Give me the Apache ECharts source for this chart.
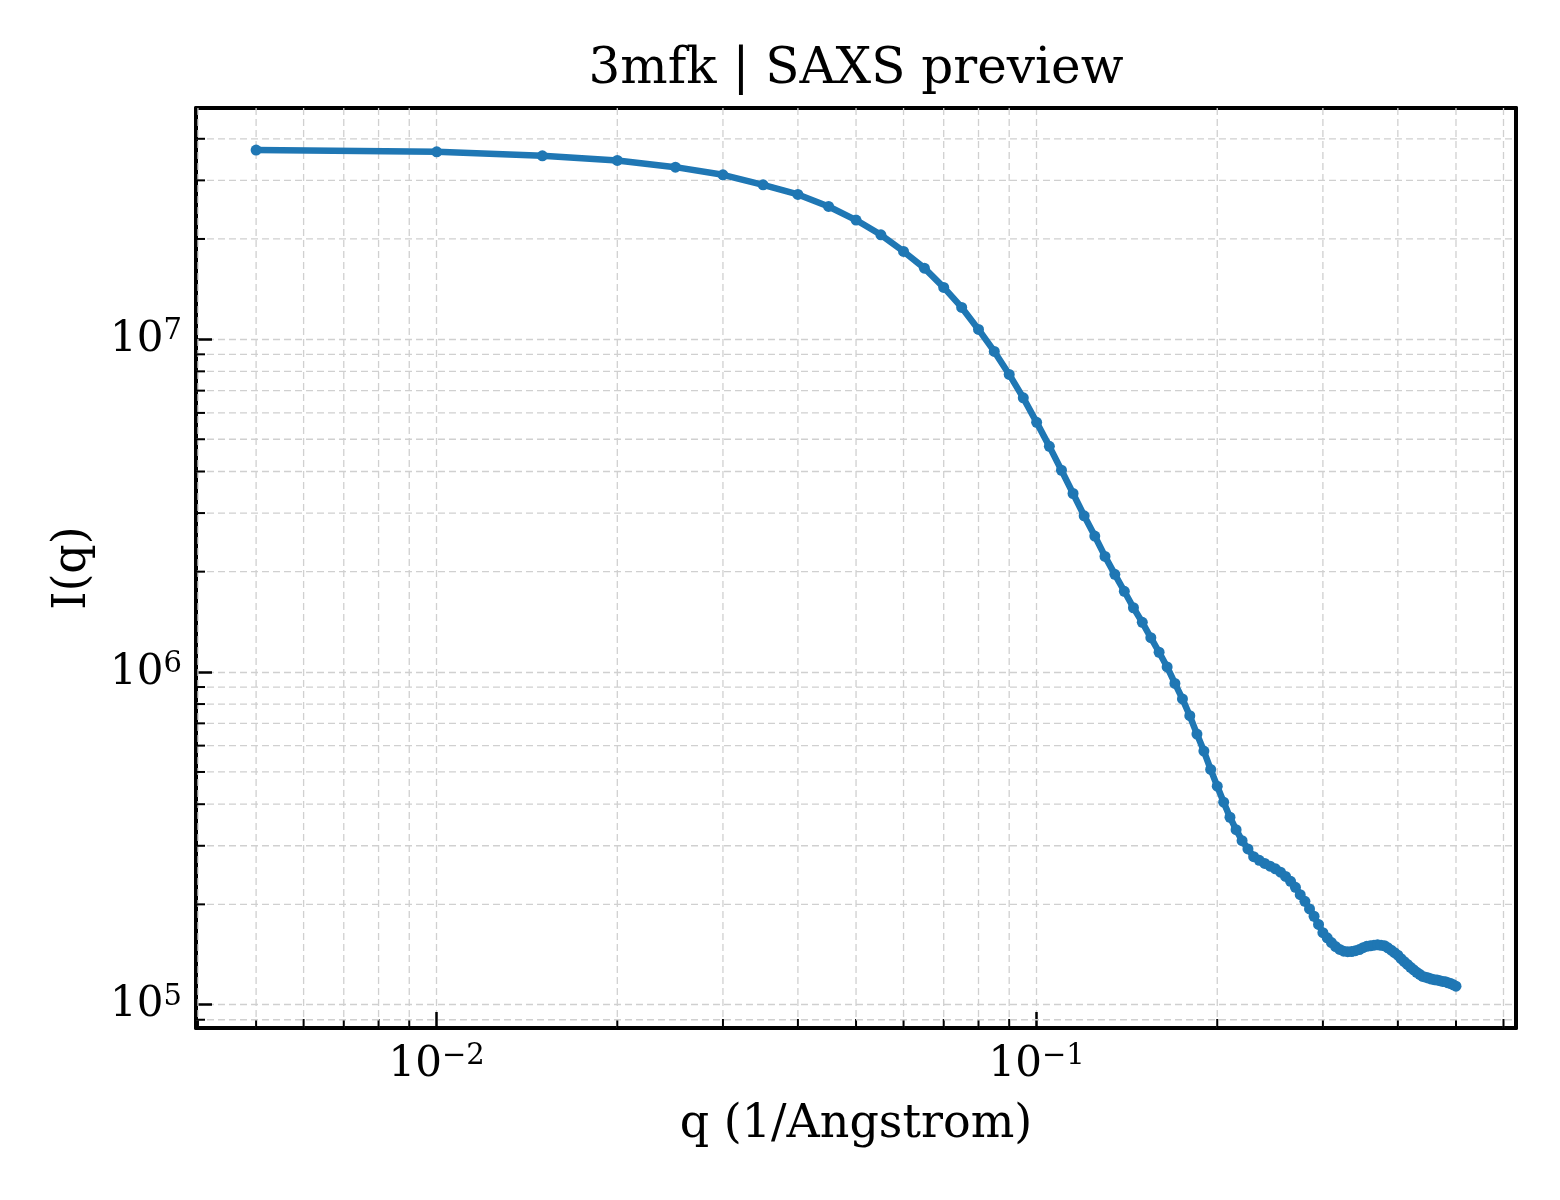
<!DOCTYPE html>
<html>
<head>
<meta charset="utf-8">
<title>3mfk | SAXS preview</title>
<script src="https://cdn.jsdelivr.net/npm/echarts@6/dist/echarts.min.js"></script>
<style>
  html, body { margin: 0; padding: 0; background: #fff; }
  #chart { width: 1560px; height: 1200px; }
</style>
</head>
<body>
<div id="chart"></div>
<script>
// --- Data ---
const qValues = [
  0.005, 0.010, 0.015, 0.020, 0.025, 0.030, 0.035, 0.040, 0.045, 0.050,
  0.055, 0.060, 0.065, 0.070, 0.075, 0.080, 0.085, 0.090, 0.095, 0.100,
  0.105, 0.110, 0.115, 0.120, 0.125, 0.130, 0.135, 0.140, 0.145, 0.150,
  0.155, 0.160, 0.165, 0.170, 0.175, 0.180, 0.185, 0.190, 0.195, 0.200,
  0.205, 0.210, 0.215, 0.220, 0.225, 0.230, 0.235, 0.240, 0.245, 0.250,
  0.255, 0.260, 0.265, 0.270, 0.275, 0.280, 0.285, 0.290, 0.295, 0.300,
  0.305, 0.310, 0.315, 0.320, 0.325, 0.330, 0.335, 0.340, 0.345, 0.350,
  0.355, 0.360, 0.365, 0.370, 0.375, 0.380, 0.385, 0.390, 0.395, 0.400,
  0.405, 0.410, 0.415, 0.420, 0.425, 0.430, 0.435, 0.440, 0.445, 0.450,
  0.455, 0.460, 0.465, 0.470, 0.475, 0.480, 0.485, 0.490, 0.495, 0.500
];

const intensity = [
  3.700e7, 3.655e7, 3.555e7, 3.444e7, 3.287e7, 3.117e7, 2.908e7, 2.721e7, 2.504e7, 2.279e7,
  2.058e7, 1.834e7, 1.634e7, 1.430e7, 1.245e7, 1.069e7, 9.180e6, 7.830e6, 6.660e6, 5.620e6,
  4.760e6, 4.035e6, 3.435e6, 2.944e6, 2.559e6, 2.223e6, 1.963e6, 1.746e6, 1.558e6, 1.408e6,
  1.266e6, 1.145e6, 1.034e6, 9.230e5, 8.290e5, 7.380e5, 6.500e5, 5.780e5, 5.090e5, 4.530e5,
  4.055e5, 3.655e5, 3.354e5, 3.108e5, 2.935e5, 2.781e5, 2.713e5, 2.655e5, 2.604e5, 2.558e5,
  2.499e5, 2.426e5, 2.346e5, 2.250e5, 2.139e5, 2.043e5, 1.938e5, 1.842e5, 1.740e5, 1.644e5,
  1.586e5, 1.535e5, 1.493e5, 1.464e5, 1.447e5, 1.441e5, 1.443e5, 1.451e5, 1.463e5, 1.482e5,
  1.496e5, 1.502e5, 1.508e5, 1.511e5, 1.507e5, 1.502e5, 1.481e5, 1.456e5, 1.432e5, 1.407e5,
  1.373e5, 1.345e5, 1.320e5, 1.294e5, 1.271e5, 1.250e5, 1.232e5, 1.215e5, 1.208e5, 1.201e5,
  1.193e5, 1.188e5, 1.185e5, 1.179e5, 1.173e5, 1.171e5, 1.162e5, 1.156e5, 1.146e5, 1.135e5
];

// axis limits
const X_MIN = 0.00397, X_MAX = 0.6295;
const Y_MIN = 8.5e4,   Y_MAX = 4.95e7;

// minor tick positions (2..9 x decade) inside the limits
const xMinorTicks = [
  0.004, 0.005, 0.006, 0.007, 0.008, 0.009,
  0.02, 0.03, 0.04, 0.05, 0.06, 0.07, 0.08, 0.09,
  0.2, 0.3, 0.4, 0.5, 0.6
];
const yMinorTicks = [
  9e4,
  2e5, 3e5, 4e5, 5e5, 6e5, 7e5, 8e5, 9e5,
  2e6, 3e6, 4e6, 5e6, 6e6, 7e6, 8e6, 9e6,
  2e7, 3e7, 4e7
];

const FONT = 'DejaVu Serif';
const GRID_COLOR = '#d0d0d0';
const GRID_DASH = [7, 4];
const FRAME = { color: '#000', width: 4 };

// --- Helpers ---
function powLabel(v) {
  const e = Math.round(Math.log10(v));
  if (Math.abs(Math.log10(v) - e) > 1e-6) return '';
  const exp = String(e).replace('-', '\u2212');
  return '{b|10}{s|' + exp + '}';
}

const labelRich = {
  b: { fontFamily: FONT, fontSize: 42, lineHeight: 44, color: '#000', verticalAlign: 'bottom' },
  s: { fontFamily: FONT, fontSize: 29, lineHeight: 29, color: '#000', verticalAlign: 'top' }
};

function minorX(params, api) {
  const v = api.value(0);
  const top = api.coord([v, Y_MAX]);
  const bot = api.coord([v, Y_MIN]);
  return {
    type: 'group',
    children: [
      { type: 'line', shape: { x1: top[0], y1: top[1], x2: bot[0], y2: bot[1] },
        style: { stroke: GRID_COLOR, lineWidth: 1.3, lineDash: GRID_DASH } },
      { type: 'line', shape: { x1: bot[0], y1: bot[1], x2: bot[0], y2: bot[1] - 9 },
        style: { stroke: '#000', lineWidth: 2 } }
    ]
  };
}

function minorY(params, api) {
  const v = api.value(1);
  const l = api.coord([X_MIN, v]);
  const r = api.coord([X_MAX, v]);
  return {
    type: 'group',
    children: [
      { type: 'line', shape: { x1: l[0], y1: l[1], x2: r[0], y2: r[1] },
        style: { stroke: GRID_COLOR, lineWidth: 1.3, lineDash: GRID_DASH } },
      { type: 'line', shape: { x1: l[0], y1: l[1], x2: l[0] + 9, y2: l[1] },
        style: { stroke: '#000', lineWidth: 2 } }
    ]
  };
}

const chart = echarts.init(document.getElementById('chart'), null, { renderer: 'canvas' });

chart.setOption({
  animation: false,
  backgroundColor: '#fff',
  title: {
    text: '3mfk | SAXS preview',
    left: 851,
    textAlign: 'center',
    top: 40,
    textStyle: { fontFamily: FONT, fontSize: 50, fontWeight: 'normal', color: '#000' }
  },
  grid: {
    left: 196, top: 108, width: 1320, height: 920,
    show: true, borderColor: 'transparent', borderWidth: 0, backgroundColor: 'transparent'
  },
  xAxis: [{
    type: 'log',
    logBase: 10,
    min: X_MIN,
    max: X_MAX,
    name: 'q (1/Angstrom)',
    nameLocation: 'middle',
    nameGap: 74,
    nameTextStyle: { fontFamily: FONT, fontSize: 46, color: '#000' },
    axisLine: { show: true, onZero: false, lineStyle: FRAME },
    axisTick: { show: true, inside: true, length: 16, lineStyle: { color: '#000', width: 2.5 } },
    axisLabel: { formatter: powLabel, rich: labelRich, margin: 14, showMinLabel: false, showMaxLabel: false },
    splitLine: { show: true, showMinLine: false, showMaxLine: false,
                 lineStyle: { color: GRID_COLOR, width: 1.3, type: GRID_DASH } },
    minorTick: { show: false },
    minorSplitLine: { show: false }
  }, {
    // top frame edge
    type: 'log',
    logBase: 10,
    min: X_MIN,
    max: X_MAX,
    position: 'top',
    axisLine: { show: true, onZero: false, lineStyle: FRAME },
    axisTick: { show: false },
    axisLabel: { show: false },
    splitLine: { show: false }
  }],
  yAxis: [{
    type: 'log',
    logBase: 10,
    min: Y_MIN,
    max: Y_MAX,
    name: 'I(q)',
    nameLocation: 'middle',
    nameGap: 100,
    nameRotate: 90,
    nameTextStyle: { fontFamily: FONT, fontSize: 46, color: '#000' },
    axisLine: { show: true, onZero: false, lineStyle: FRAME },
    axisTick: { show: true, inside: true, length: 16, lineStyle: { color: '#000', width: 2.5 } },
    axisLabel: { formatter: powLabel, rich: labelRich, margin: 14, showMinLabel: false, showMaxLabel: false },
    splitLine: { show: true, showMinLine: false, showMaxLine: false,
                 lineStyle: { color: GRID_COLOR, width: 1.3, type: GRID_DASH } },
    minorTick: { show: false },
    minorSplitLine: { show: false }
  }, {
    // right frame edge
    type: 'log',
    logBase: 10,
    min: Y_MIN,
    max: Y_MAX,
    position: 'right',
    axisLine: { show: true, onZero: false, lineStyle: FRAME },
    axisTick: { show: false },
    axisLabel: { show: false },
    splitLine: { show: false }
  }],
  series: [
    {
      type: 'custom',
      name: 'x minor',
      silent: true,
      clip: false,
      z: 1,
      renderItem: minorX,
      encode: { x: 0, y: 1 },
      data: xMinorTicks.map(v => [v, Y_MIN])
    },
    {
      type: 'custom',
      name: 'y minor',
      silent: true,
      clip: false,
      z: 1,
      renderItem: minorY,
      encode: { x: 0, y: 1 },
      data: yMinorTicks.map(v => [X_MIN, v])
    },
    {
      type: 'line',
      name: 'I(q)',
      z: 3,
      data: qValues.map((q, i) => [q, intensity[i]]),
      showSymbol: true,
      symbol: 'circle',
      symbolSize: 11,
      itemStyle: { color: '#1f77b4', borderWidth: 0 },
      lineStyle: { color: '#1f77b4', width: 6.5 }
    }
  ]
});
</script>
</body>
</html>
